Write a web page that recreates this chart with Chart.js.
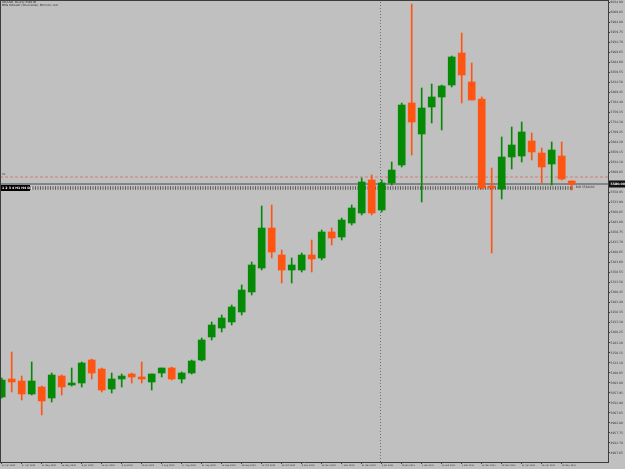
<!DOCTYPE html>
<html><head><meta charset="utf-8">
<script src="https://cdn.jsdelivr.net/npm/chart.js@4"></script>
<style>html,body{margin:0;padding:0;background:#c0c0c0;overflow:hidden}canvas{display:block}</style>
</head><body>
<canvas id="c" width="625" height="469"></canvas>
<script>
// ---------- DATA ----------
const categories = ["13 Apr 2020","20 Apr 2020","27 Apr 2020","4 May 2020","11 May 2020","18 May 2020","25 May 2020","1 Jun 2020","8 Jun 2020","15 Jun 2020","22 Jun 2020","29 Jun 2020","6 Jul 2020","13 Jul 2020","20 Jul 2020","27 Jul 2020","3 Aug 2020","10 Aug 2020","17 Aug 2020","24 Aug 2020","31 Aug 2020","7 Sep 2020","14 Sep 2020","21 Sep 2020","28 Sep 2020","5 Oct 2020","12 Oct 2020","19 Oct 2020","26 Oct 2020","2 Nov 2020","9 Nov 2020","16 Nov 2020","23 Nov 2020","30 Nov 2020","7 Dec 2020","14 Dec 2020","21 Dec 2020","28 Dec 2020","4 Jan 2021","11 Jan 2021","18 Jan 2021","25 Jan 2021","1 Feb 2021","8 Feb 2021","15 Feb 2021","22 Feb 2021","1 Mar 2021","8 Mar 2021","15 Mar 2021","22 Mar 2021","29 Mar 2021","5 Apr 2021","12 Apr 2021","19 Apr 2021","26 Apr 2021","3 May 2021","10 May 2021","17 May 2021"];
const opens  = [5047.5,5092.5,5087.5,5055,5072.5,5045,5100,5077.5,5082.5,5140,5117.5,5067.5,5092.5,5105,5097.5,5085,5107.5,5120,5092.5,5107.5,5140,5197.5,5220,5235,5260,5310,5370,5470,5402.5,5365,5365,5402.5,5395,5460,5447.5,5482.5,5507.5,5590,5515,5582.5,5627.5,5782.5,5705,5772.5,5797.5,5827.5,5907.5,5835,5792.5,5575,5567.5,5647.5,5650,5687.5,5657.5,5630,5650,5587.5];
const highs  = [5095,5160,5100,5135,5075,5107.5,5102.5,5120,5135,5142.5,5120,5107.5,5105,5107.5,5135,5105,5120,5122.5,5110,5140,5195,5235,5252.5,5277.5,5327.5,5385,5525,5527.5,5415,5395,5407.5,5440,5465,5470,5495,5527.5,5595,5602.5,5590,5635,5782.5,6030,5820,5830,5827.5,5900,5957.5,5882.5,5797.5,5620,5697.5,5722.5,5735,5707.5,5670,5685,5685,5587.5];
const lows   = [5045,5060,5040,5052.5,5002.5,5035,5052.5,5075,5072.5,5092.5,5060,5057.5,5072.5,5082.5,5082.5,5065,5097.5,5090,5082.5,5105,5137.5,5190,5210,5227.5,5252.5,5302.5,5365,5395,5332.5,5332.5,5360,5360,5390,5427.5,5440,5477.5,5502.5,5502.5,5510,5577.5,5622.5,5652.5,5535,5732.5,5715,5822.5,5782.5,5790,5567.5,5407.5,5542.5,5617.5,5635,5640,5582.5,5577.5,5590,5565];
const closes = [5090,5085,5055,5087.5,5037.5,5102.5,5072.5,5082.5,5132.5,5107.5,5065,5092.5,5100,5097.5,5092.5,5105,5120,5092.5,5107.5,5137.5,5190,5227.5,5245,5272.5,5315,5377.5,5470,5410,5365,5377.5,5402.5,5392.5,5460,5445,5490,5520,5585,5507.5,5582.5,5615,5777.5,5735,5770,5797.5,5825,5897.5,5852.5,5790,5570,5570,5647.5,5677.5,5710,5660,5622.5,5665,5592.5,5580];
const xTickIndex = [0,2,4,6,8,10,12,14,16,18,20,22,24,26,28,30,32,34,36,38,40,42,44,46,48,50,52,54,56];
const yTicks = [6034.90,6009.85,5984.80,5959.75,5934.70,5909.65,5884.60,5859.55,5834.50,5809.45,5784.40,5759.35,5734.30,5709.25,5684.20,5659.15,5634.10,5609.05,5558.95,5533.90,5508.85,5483.80,5458.75,5433.70,5408.65,5383.60,5358.55,5333.50,5308.45,5283.40,5258.35,5233.30,5208.25,5183.20,5158.15,5133.10,5108.05,5083.00,5057.95,5032.90,5007.85,4982.80,4957.75,4932.70,4907.65];
const alertLevel = 5597.5;     // red dashed line
const bidLevel = 5580;         // current price line
const stripLevel = 5570;       // row of tick marks
const separatorAt = 37.88;     // vertical dotted separator (index units)
const titleLines = ["XAUUSD, Weekly: 5580.00", "MMS Indicator (10 seconds): 5M in the end"];
const stripText = "1 2 3 4 H1 H4 D1";

// ---------- CHART ----------
const X_MIN = -0.17, X_MAX = 60.63, Y_MIN = 4885, Y_MAX = 6040;
const GREEN = '#058a05', ORANGE = '#ff5412';
const idx = categories.map((_, i) => i);
const colors = idx.map(i => closes[i] >= opens[i] ? GREEN : ORANGE);
const hline = (v, x0 = X_MIN, x1 = X_MAX) => [{x: x0, y: v}, {x: x1, y: v}];

const deco = {
  id: 'deco',
  afterDraw(chart) {
    const {ctx, chartArea: a, scales: {y, x}} = chart;
    ctx.save();
    ctx.strokeStyle = '#3c3c3c'; ctx.lineWidth = 1;
    ctx.beginPath();
    ctx.moveTo(a.left, a.top + 0.5); ctx.lineTo(a.right, a.top + 0.5);
    ctx.moveTo(a.left + 0.5, a.top); ctx.lineTo(a.left + 0.5, a.bottom);
    ctx.stroke();
    ctx.fillStyle = '#222'; ctx.textBaseline = 'top';
    ctx.font = '2.6px "DejaVu Sans"';
    ctx.fillText(titleLines[0], 2, 1);
    ctx.fillText(titleLines[1], 2, 4.2);
    const ay = y.getPixelForValue(alertLevel);
    ctx.textBaseline = 'bottom';
    ctx.fillText('HL', 2, ay - 1);
    // strip labels
    const sy = y.getPixelForValue(stripLevel);
    ctx.fillStyle = '#000'; ctx.fillRect(1, sy - 3, 29, 6);
    ctx.fillStyle = '#fff'; ctx.textBaseline = 'middle'; ctx.font = 'bold 3.2px "DejaVu Sans"';
    ctx.fillText(stripText, 2, sy);
    // label after last candle
    const lx = x.getPixelForValue(idx.length - 1) + 4;
    ctx.fillStyle = '#333'; ctx.font = '3px "DejaVu Sans"';
    ctx.fillText('BID ' + bidLevel.toFixed(2), lx, sy - 0.5);
    // price box on axis
    const py = y.getPixelForValue(bidLevel);
    ctx.fillStyle = '#111'; ctx.fillRect(a.right + 1, py - 3.5, 16, 7);
    ctx.fillStyle = '#fff'; ctx.font = 'bold 3.2px "DejaVu Sans"'; ctx.textBaseline = 'middle';
    ctx.fillText(bidLevel.toFixed(2), a.right + 2.5, py);
    ctx.restore();
  }
};

new Chart(document.getElementById('c'), {
  data: {
    datasets: [
      {type: 'bar', data: idx.map(i => ({x: i, y: [opens[i], closes[i]]})), backgroundColor: colors,
       barThickness: 7, grouped: false, borderWidth: 0, order: 0},
      {type: 'bar', data: idx.map(i => ({x: i, y: [lows[i], highs[i]]})), backgroundColor: colors,
       barThickness: 1, grouped: false, borderWidth: 0, order: 1},
      {type: 'line', data: hline(alertLevel), borderColor: 'rgba(210,110,110,0.85)', borderDash: [3, 2],
       borderWidth: 1, pointRadius: 0, order: 3},
      {type: 'line', data: hline(bidLevel), borderColor: '#4a4a4a', borderWidth: 1, pointRadius: 0, order: 3},
      {type: 'line', data: hline(stripLevel, 2.83, 57.13), borderColor: '#5a5a5a', borderDash: [1, 1.5],
       borderWidth: 3.5, pointRadius: 0, order: 3},
      {type: 'line', data: [{x: separatorAt, y: Y_MIN}, {x: separatorAt, y: Y_MAX}], borderColor: '#6e6e6e',
       borderDash: [1, 2], borderWidth: 1, pointRadius: 0, order: 4}
    ]
  },
  options: {
    responsive: false, animation: false, devicePixelRatio: 1,
    layout: {padding: 0},
    plugins: {legend: {display: false}, tooltip: {enabled: false}},
    scales: {
      x: {
        type: 'linear', position: 'bottom', min: X_MIN, max: X_MAX, offset: false,
        afterBuildTicks: s => { s.ticks = xTickIndex.map(v => ({value: v})); },
        afterFit: s => { s.height = 7; s.paddingLeft = 0; s.paddingRight = 0; },
        ticks: {autoSkip: false, maxRotation: 0, align: 'start', padding: 0.5, color: '#333',
                font: {size: 2.2, family: 'DejaVu Sans'}, callback: v => categories[v]},
        grid: {drawOnChartArea: false, tickLength: 2, color: '#444', offset: false},
        border: {display: true, color: '#3c3c3c'}
      },
      y: {
        type: 'linear', position: 'right', min: Y_MIN, max: Y_MAX,
        afterBuildTicks: s => { s.ticks = yTicks.map(v => ({value: v})); },
        afterFit: s => { s.width = 17; s.paddingTop = 0; s.paddingBottom = 0; },
        ticks: {padding: 0.5, color: '#333', font: {size: 3, family: 'DejaVu Sans'},
                callback: v => v.toFixed(2)},
        grid: {drawOnChartArea: false, tickLength: 2, color: '#444'},
        border: {display: true, color: '#3c3c3c'}
      }
    }
  },
  plugins: [deco]
});
</script>
</body></html>
